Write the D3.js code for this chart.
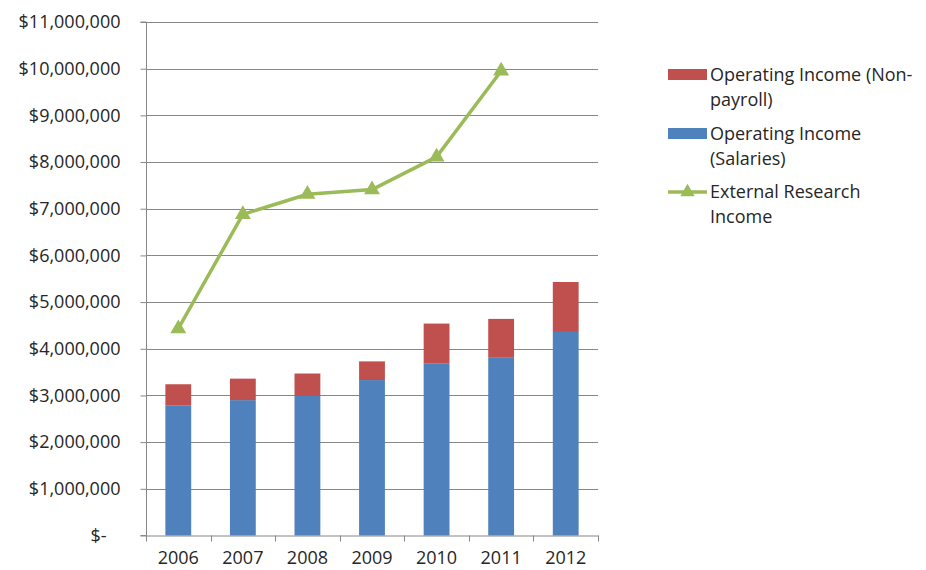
<!DOCTYPE html>
<html><head><meta charset="utf-8">
<script src="https://cdn.jsdelivr.net/npm/d3@7"></script>
<style>body{margin:0;background:#fff;} text{font-family:"Open Sans",Lato,sans-serif;}</style>
</head><body>
<svg id="c" width="926" height="570"></svg>
<script>
const years = ["2006","2007","2008","2009","2010","2011","2012"];
const salaries = [2780000, 2900000, 2990000, 3330000, 3690000, 3820000, 4360000];
const nonPayroll = [460000, 460000, 480000, 400000, 850000, 820000, 1070000];
const external = [4430000, 6880000, 7310000, 7410000, 8110000, 9950000, null];
const yTicks = [0,1000000,2000000,3000000,4000000,5000000,6000000,7000000,8000000,9000000,10000000,11000000];
const legendItems = [
  {lines:["Operating Income (Non-","payroll)"], color:"#C0504D", type:"rect"},
  {lines:["Operating Income","(Salaries)"], color:"#4F81BD", type:"rect"},
  {lines:["External Research","Income"], color:"#9BBB59", type:"line"}
];

const svg = d3.select("#c");
const L=146, R=598, T=22, B=535.5;
const xb = d3.scaleBand().domain(years).range([L,R]);
const y = d3.scaleLinear().domain([0,11000000]).range([B,T]);
const grid="#878787";
const txt="#262626";
const fs=18;

// gridlines
svg.append("g").selectAll("line").data(yTicks.filter(d=>d>0)).join("line")
  .attr("x1",L).attr("x2",R).attr("y1",d=>Math.round(y(d))+0.5).attr("y2",d=>Math.round(y(d))+0.5)
  .attr("stroke",grid).attr("stroke-width",1);

// bars
const barW = xb.bandwidth()/2.5;
const bx = d => xb(d)+ (xb.bandwidth()-barW)/2;
svg.append("g").selectAll("rect").data(years).join("rect")
  .attr("x",(d)=>bx(d)).attr("width",barW)
  .attr("y",(d,i)=>y(salaries[i])).attr("height",(d,i)=>B-y(salaries[i]))
  .attr("fill","#4F81BD");
svg.append("g").selectAll("rect").data(years).join("rect")
  .attr("x",(d)=>bx(d)).attr("width",barW)
  .attr("y",(d,i)=>y(salaries[i]+nonPayroll[i])).attr("height",(d,i)=>y(salaries[i])-y(salaries[i]+nonPayroll[i]))
  .attr("fill","#C0504D");

// axes
const yAxis = d3.axisLeft(y).tickValues(yTicks).tickSize(6).tickPadding(20)
  .tickFormat(d=> d===0 ? "$-" : "$"+d3.format(",")(d));
const gy = svg.append("g").attr("transform",`translate(${L+0.5},0)`).call(yAxis);
gy.select(".domain").attr("stroke",grid).attr("d",`M-6,${T}H0V${B}H-6`);
gy.selectAll(".tick line").attr("stroke",grid);
gy.selectAll(".tick text").attr("font-size",fs).attr("fill",txt)
  .attr("dx",d=>d===0?-14:0);

const xAxis = d3.axisBottom(xb).tickSize(0).tickPadding(16);
const gx = svg.append("g").attr("transform",`translate(0,${B})`).call(xAxis);
gx.select(".domain").attr("stroke",grid);
gx.selectAll(".tick text").attr("font-size",fs).attr("fill",txt);
svg.append("g").selectAll("line").data(years.concat(["end"])).join("line")
  .attr("x1",(d,i)=>Math.round(L+i*xb.step())+0.5).attr("x2",(d,i)=>Math.round(L+i*xb.step())+0.5)
  .attr("y1",B).attr("y2",B+6).attr("stroke",grid);

// line
const pts = years.map((d,i)=>({d,v:external[i]})).filter(p=>p.v!=null);
const cx = d => xb(d)+xb.bandwidth()/2;
svg.append("path").datum(pts)
  .attr("d",d3.line().x(p=>cx(p.d)).y(p=>y(p.v)))
  .attr("fill","none").attr("stroke","#9BBB59").attr("stroke-width",3.5).attr("stroke-linejoin","round");
const tri = d3.symbol().type(d3.symbolTriangle).size(110);
svg.append("g").selectAll("path").data(pts).join("path")
  .attr("d",tri).attr("transform",p=>`translate(${cx(p.d)},${y(p.v)})`).attr("fill","#9BBB59");

// legend
const lg = svg.append("g");
const ly0 = [75,134,192];
legendItems.forEach((it,i)=>{
  const yy = ly0[i];
  if(it.type==="rect"){
    lg.append("rect").attr("x",668).attr("y",yy-6).attr("width",39).attr("height",11).attr("fill",it.color);
  } else {
    lg.append("line").attr("x1",668).attr("x2",707).attr("y1",yy).attr("y2",yy).attr("stroke",it.color).attr("stroke-width",3.5);
    lg.append("path").attr("d",d3.symbol().type(d3.symbolTriangle).size(90)).attr("transform",`translate(687.5,${yy})`).attr("fill",it.color);
  }
  it.lines.forEach((t,j)=>{
    lg.append("text").attr("x",710).attr("y",yy+j*25).attr("dy","0.35em").attr("font-size",fs).attr("fill",txt).text(t);
  });
});
</script>
</body></html>
